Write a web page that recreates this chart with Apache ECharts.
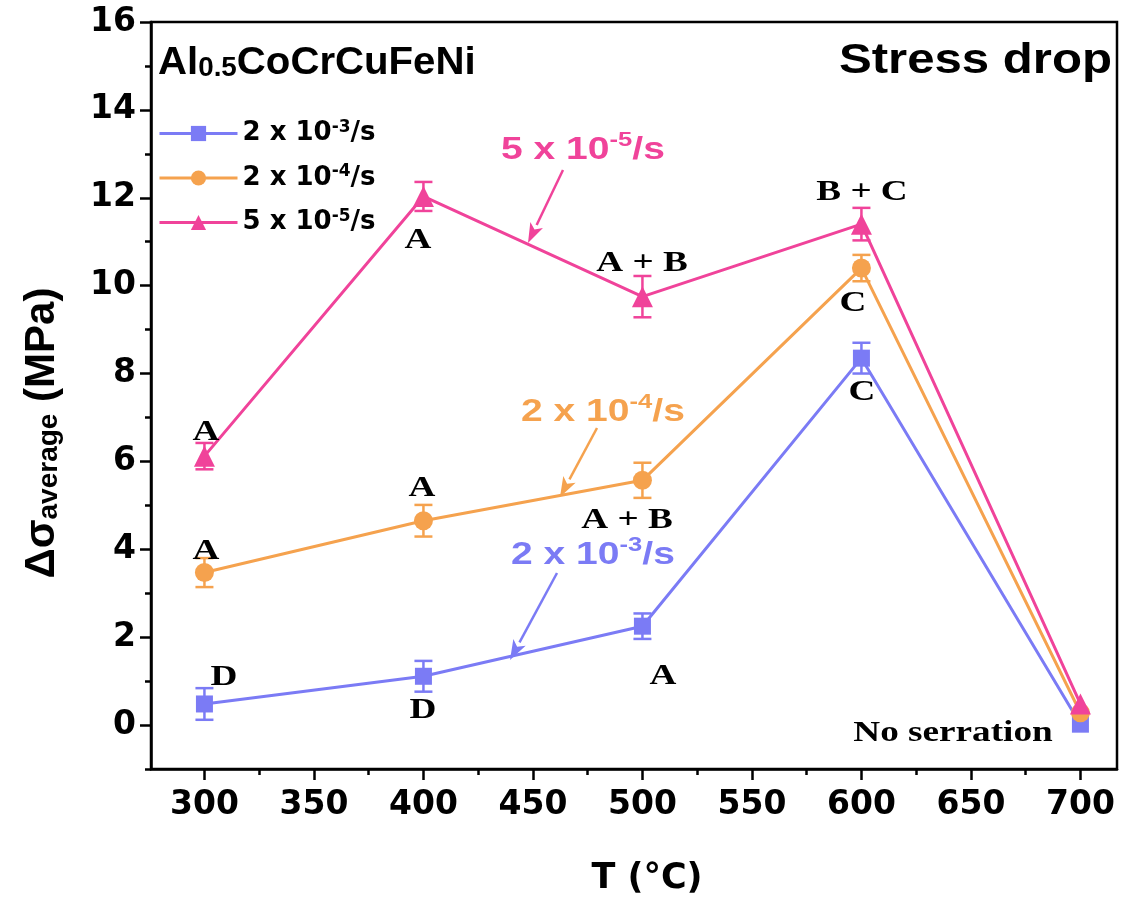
<!DOCTYPE html>
<html><head><meta charset="utf-8">
<script src="https://cdn.jsdelivr.net/npm/echarts@6/dist/echarts.min.js"></script>
<style>html,body{margin:0;padding:0;background:#fff}#c{width:1122px;height:901px}</style>
</head><body><div id="c"></div>
<script>
const temps = [300, 400, 500, 600, 700];
const rate3 = [0.48, 1.11, 2.25, 8.35, 0.02];
const rate3Err = [0.36, 0.35, 0.29, 0.35, 0.0];
const rate4 = [3.47, 4.65, 5.57, 10.4, 0.28];
const rate4Err = [0.33, 0.36, 0.4, 0.3, 0.0];
const rate5 = [6.12, 12.03, 9.75, 11.4, 0.48];
const rate5Err = [0.3, 0.33, 0.47, 0.37, 0.0];
const seriesNames = ['2 x 10{sup|-3}/s', '2 x 10{sup|-4}/s', '5 x 10{sup|-5}/s'];
const xLabels = [300, 350, 400, 450, 500, 550, 600, 650, 700];
const xMinor = [325, 375, 425, 475, 525, 575, 625, 675];
const yLabels = [0, 2, 4, 6, 8, 10, 12, 14, 16];
const yMinor = [-1, 1, 3, 5, 7, 9, 11, 13, 15];

const C3 = '#7b7bf5', C4 = '#f5a24e', C5 = '#f0439a';
const SANS = 'DejaVu Sans', ARIAL = 'Liberation Sans', SERIF = 'Liberation Serif';

function errSeries(vals, errs, color) {
  return {
    type: 'custom', xAxisIndex: 0, yAxisIndex: 0, z: 3, silent: true,
    data: temps.map((t, i) => [t, vals[i] - errs[i], vals[i] + errs[i]]),
    renderItem: function (params, api) {
      const lo = api.coord([api.value(0), api.value(1)]);
      const hi = api.coord([api.value(0), api.value(2)]);
      if (Math.abs(lo[1] - hi[1]) < 1) return null;
      const w = 9;
      const st = { stroke: color, lineWidth: 2.5 };
      return { type: 'group', children: [
        { type: 'line', shape: { x1: lo[0], y1: lo[1], x2: hi[0], y2: hi[1] }, style: st },
        { type: 'line', shape: { x1: lo[0] - w, y1: lo[1], x2: lo[0] + w, y2: lo[1] }, style: st },
        { type: 'line', shape: { x1: hi[0] - w, y1: hi[1], x2: hi[0] + w, y2: hi[1] }, style: st }
      ]};
    }
  };
}
function lineSeries(name, vals, color, symbol, size) {
  return {
    name: name, type: 'line', xAxisIndex: 0, yAxisIndex: 0, z: 4,
    data: temps.map((t, i) => [t, vals[i]]),
    symbol: symbol, symbolSize: size, showSymbol: true,
    lineStyle: { color: color, width: 3 },
    itemStyle: { color: color, borderWidth: 0 },
    emphasis: { disabled: true }, animation: false
  };
}
const axisLineStyle = { onZero: false, lineStyle: { color: '#000', width: 2.5 } };
const tickLabelStyle = { fontFamily: SANS, fontWeight: 'bold', fontSize: 33, color: '#000' };

function txt(x, y, s, opts, sx) {
  return { type: 'text', x: x, y: y, z: 10, scaleX: sx || 1.24,
    style: Object.assign({ text: s, fill: '#000', font: 'bold 30px "' + SERIF + '"', align: 'center', verticalAlign: 'middle' }, opts || {}) };
}
function richTxt(x, y, s, color, size, supSize, sx, extra) {
  return Object.assign({ type: 'text', x: x, y: y, z: 10, scaleX: sx || 1, style: {
    text: s, align: 'left', verticalAlign: 'middle',
    rich: {
      n: { fontFamily: ARIAL, fontWeight: 'bold', fontSize: size, fill: color, color: color, verticalAlign: 'bottom', lineHeight: size + 4 },
      sup: { fontFamily: ARIAL, fontWeight: 'bold', fontSize: supSize, fill: color, color: color, verticalAlign: 'top', padding: [0, 0, size * 0.45, 0], lineHeight: size + 4 },
      sub: { fontFamily: ARIAL, fontWeight: 'bold', fontSize: supSize, fill: color, color: color, verticalAlign: 'bottom', padding: [size * 0.3, 0, 0, 0], lineHeight: size + 4 }
    } } }, extra || {});
}
function arrow(x1, y1, x2, y2, color) {
  const ang = Math.atan2(y2 - y1, x2 - x1), L = 20, W = 7;
  const bx = x2 - L * Math.cos(ang), by = y2 - L * Math.sin(ang);
  const px = -Math.sin(ang) * W, py = Math.cos(ang) * W;
  return [
    { type: 'line', z: 10, shape: { x1: x1, y1: y1, x2: bx, y2: by }, style: { stroke: color, lineWidth: 2.5 } },
    { type: 'polygon', z: 10, shape: { points: [[x2, y2], [bx + px, by + py], [bx + L * 0.25 * Math.cos(ang), by + L * 0.25 * Math.sin(ang)], [bx - px, by - py]] }, style: { fill: color } }
  ];
}

const yTitle = richTxt(40, 433, '{n|Δσ}{sub|average}{n| (MPa)}', '#000', 42, 28, 1, { rotation: Math.PI / 2 });
yTitle.style.align = 'center';

const chart = echarts.init(document.getElementById('c'));
chart.setOption({
  backgroundColor: '#fff',
  animation: false,
  grid: { left: 151, top: 22, right: 5, bottom: 128, show: true, borderColor: '#000', borderWidth: 2.5, containLabel: false },
  legend: {
    left: 153, top: 114, orient: 'vertical', itemGap: 17, itemWidth: 78, itemHeight: 19,
    data: seriesNames,
    selectedMode: false,
    lineStyle: { width: 3 },
    textStyle: { fontFamily: SANS, fontWeight: 'bold', fontSize: 26, color: '#000',
      rich: { sup: { fontFamily: SANS, fontWeight: 'bold', fontSize: 17, color: '#000', verticalAlign: 'top', padding: [0, 0, 12, 0] } } }
  },
  xAxis: [
    { type: 'value', min: 275.6, max: 716.7, position: 'bottom',
      name: 'T (°C)', nameLocation: 'middle', nameGap: 92,
      nameTextStyle: { fontFamily: SANS, fontWeight: 'bold', fontSize: 35, color: '#000', padding: [0, 0, 0, 26] },
      axisLine: axisLineStyle, splitLine: { show: false },
      axisTick: { customValues: xLabels, length: 11, lineStyle: { color: '#000', width: 2.5 } },
      axisLabel: Object.assign({ customValues: xLabels, margin: 20 }, tickLabelStyle) },
    { type: 'value', min: 275.6, max: 716.7, position: 'bottom', gridIndex: 0,
      axisLine: { show: false, onZero: false }, splitLine: { show: false },
      axisTick: { customValues: xMinor, length: 6, lineStyle: { color: '#000', width: 2.5 } },
      axisLabel: { show: false } }
  ],
  yAxis: [
    { type: 'value', min: -1, max: 16, position: 'left',
      axisLine: axisLineStyle, splitLine: { show: false },
      axisTick: { customValues: yLabels, length: 11, lineStyle: { color: '#000', width: 2.5 } },
      axisLabel: Object.assign({ customValues: yLabels, margin: 15 }, tickLabelStyle) },
    { type: 'value', min: -1, max: 16, position: 'left', gridIndex: 0,
      axisLine: { show: false, onZero: false }, splitLine: { show: false },
      axisTick: { customValues: yMinor, length: 6, lineStyle: { color: '#000', width: 2.5 } },
      axisLabel: { show: false } }
  ],
  series: [
    errSeries(rate3, rate3Err, C3),
    errSeries(rate4, rate4Err, C4),
    errSeries(rate5, rate5Err, C5),
    lineSeries(seriesNames[0], rate3, C3, 'rect', 17),
    lineSeries(seriesNames[1], rate4, C4, 'circle', 19),
    lineSeries(seriesNames[2], rate5, C5, 'triangle', 21)
  ],
  graphic: [
    yTitle,
    richTxt(158, 61, '{n|Al}{sub|0.5}{n|CoCrCuFeNi}', '#000', 39, 27, 1.03),
    txt(1112, 61, 'Stress drop', { font: 'bold 42px "' + ARIAL + '"', align: 'right' }, 1.17),
    richTxt(501, 148, '{n|5 x 10}{sup|-5}{n|/s}', C5, 32, 21, 1.22),
    richTxt(521, 410, '{n|2 x 10}{sup|-4}{n|/s}', C4, 32, 21, 1.22),
    richTxt(511, 553, '{n|2 x 10}{sup|-3}{n|/s}', C3, 32, 21, 1.22),
    ...arrow(563, 170, 528, 243, C5),
    ...arrow(597, 428, 560, 497, C4),
    ...arrow(557, 573, 510, 660, C3),
    txt(206, 432, 'A'), txt(418, 240, 'A'), txt(642, 263, 'A + B'), txt(862, 192, 'B + C'),
    txt(206, 551, 'A'), txt(422, 488, 'A'), txt(627, 520, 'A + B'), txt(853, 303, 'C'),
    txt(862, 392, 'C'), txt(224, 677, 'D'), txt(423, 710, 'D'), txt(663, 676, 'A'),
    txt(953, 733, 'No serration')
  ]
});
</script></body></html>
